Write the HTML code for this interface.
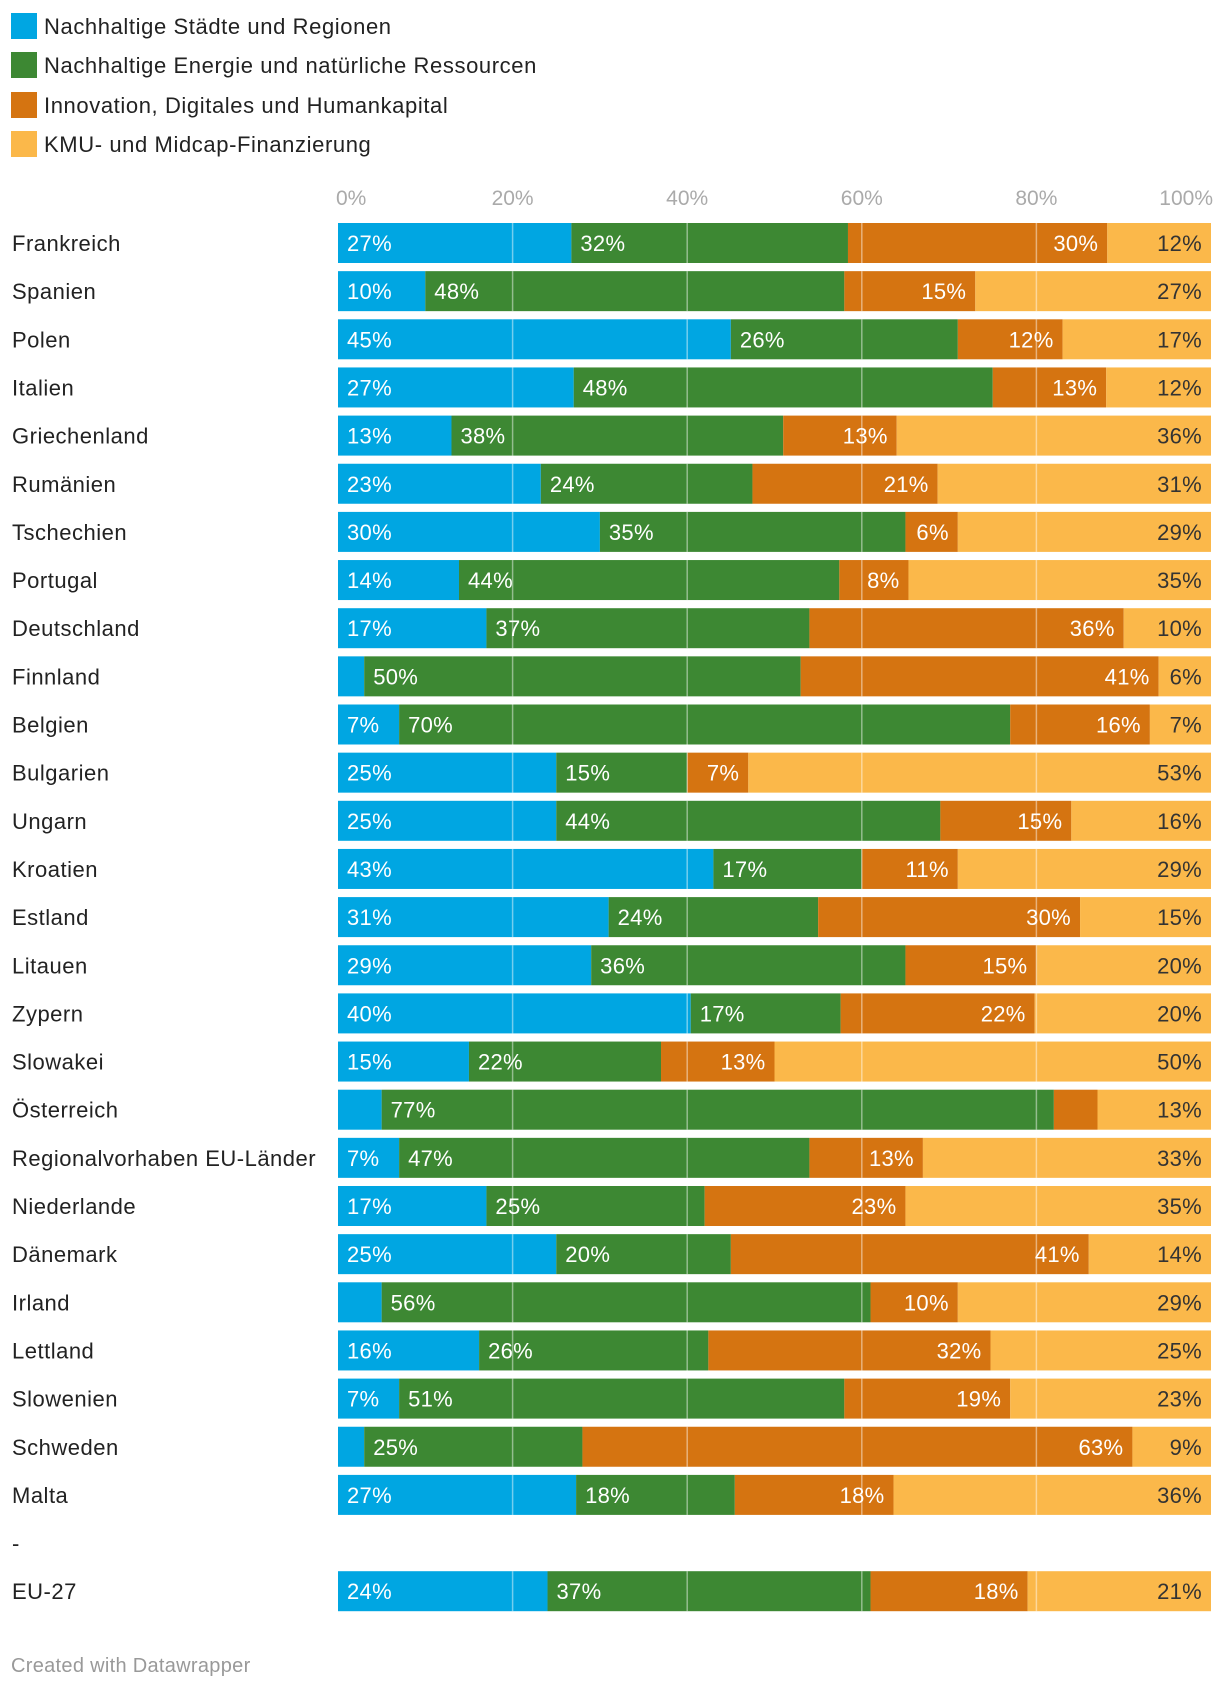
<!DOCTYPE html>
<html><head><meta charset="utf-8">
<style>
body{margin:0;background:#fff;width:1220px;height:1684px;overflow:hidden;font-family:"Liberation Sans",sans-serif;}
svg text{font-family:"Liberation Sans",sans-serif;}
</style></head>
<body>
<svg id="chart" width="1220" height="1684" xmlns="http://www.w3.org/2000/svg"></svg>
<script>
const categories=["Frankreich","Spanien","Polen","Italien","Griechenland","Rumänien","Tschechien","Portugal","Deutschland","Finnland","Belgien","Bulgarien","Ungarn","Kroatien","Estland","Litauen","Zypern","Slowakei","Österreich","Regionalvorhaben EU-Länder","Niederlande","Dänemark","Irland","Lettland","Slowenien","Schweden","Malta","-","EU-27"];
const seriesNames=["Nachhaltige Städte und Regionen","Nachhaltige Energie und natürliche Ressourcen","Innovation, Digitales und Humankapital","KMU- und Midcap-Finanzierung"];
const staedte=[27,10,45,27,13,23,30,14,17,3,7,25,25,43,31,29,40,15,5,7,17,25,5,16,7,3,27,null,24];
const energie=[32,48,26,48,38,24,35,44,37,50,70,15,44,17,24,36,17,22,77,47,25,20,56,26,51,25,18,null,37];
const innovation=[30,15,12,13,13,21,6,8,36,41,16,7,15,11,30,15,22,13,5,13,23,41,10,32,19,63,18,null,18];
const kmu=[12,27,17,12,36,31,29,35,10,6,7,53,16,29,15,20,20,50,13,33,35,14,29,25,23,9,36,null,21];
const showLabel=[[1,1,1,1,1,1,1,1,1,0,1,1,1,1,1,1,1,1,0,1,1,1,0,1,1,0,1,0,1],null,[1,1,1,1,1,1,1,1,1,1,1,1,1,1,1,1,1,1,0,1,1,1,1,1,1,1,1,0,1],null];
const ticks=[0,20,40,60,80,100];
const colors=["#00a6e2","#3d8833","#d57411","#fbb84a"];
const NS="http://www.w3.org/2000/svg";
const svg=document.getElementById('chart');
const X0=338,X1=1211;
const xs=v=>X0+(X1-X0)*v/100;
const rowTop=i=>223+48.15*i;
const BH=40;
function mk(t,a,txt){const e=document.createElementNS(NS,t);for(const k in a)e.setAttribute(k,a[k]);if(txt!==undefined)e.textContent=txt;svg.appendChild(e);return e;}
seriesNames.forEach((n,i)=>{
  const cy=[26,65,105,144][i];
  const r=mk('rect',{x:11,y:cy-13,width:26,height:26,fill:colors[i]});
  
  
  const t=mk('text',{x:44,y:cy+8,'font-size':22,'letter-spacing':0.6,fill:'#222'},n);
  
  
});
ticks.forEach((v,i)=>{
  const anchor=i===0?'start':(i===ticks.length-1?'end':'middle');
  const t=mk('text',{x:xs(v)+(i===0?-2:0)+(i===ticks.length-1?2:0),y:205,'font-size':21,fill:'#aaaaaa','text-anchor':anchor},v+'%');
  
  
});
const series=[staedte,energie,innovation,kmu];
categories.forEach((c,i)=>{
  const top=rowTop(i);
  const lab=mk('text',{x:12,y:top+28,'font-size':22,'letter-spacing':0.5,fill:'#222'},c);
  
  
  if(staedte[i]===null)return;
  const tot=series.reduce((s,a)=>s+a[i],0);
  let acc=0;
  series.forEach((arr,k)=>{
    const v=arr[i]*100/tot;
    const xa=xs(acc),xb=xs(acc+v);
    const r=mk('rect',{x:xa,y:top,width:xb-xa,height:BH,fill:colors[k]});
    
    
    acc+=v;
  });
  [20,40,60,80].forEach(g=>{
    const l=mk('line',{x1:xs(g),x2:xs(g),y1:top,y2:top+BH,stroke:'rgba(255,255,255,0.45)','stroke-width':1.5});
    
    
  });
  acc=0;
  series.forEach((arr,k)=>{
    const v=arr[i]*100/tot;
    const xa=xs(acc),xb=xs(acc+v);
    acc+=v;
    if(showLabel[k]&&!showLabel[k][i])return;
    let x,anchor;
    if(k<2){x=xa+9;anchor='start';}else{x=xb-9;anchor='end';}
    const t=mk('text',{x:x,y:top+28,'font-size':22,'letter-spacing':0.3,fill:k===3?'#333':'#fff','text-anchor':anchor},arr[i]+'%');
    
    
  });
});
const f=mk('text',{x:11,y:1672,'font-size':20,'letter-spacing':0.3,fill:'#999'},'Created with Datawrapper');


</script>
</body></html>
